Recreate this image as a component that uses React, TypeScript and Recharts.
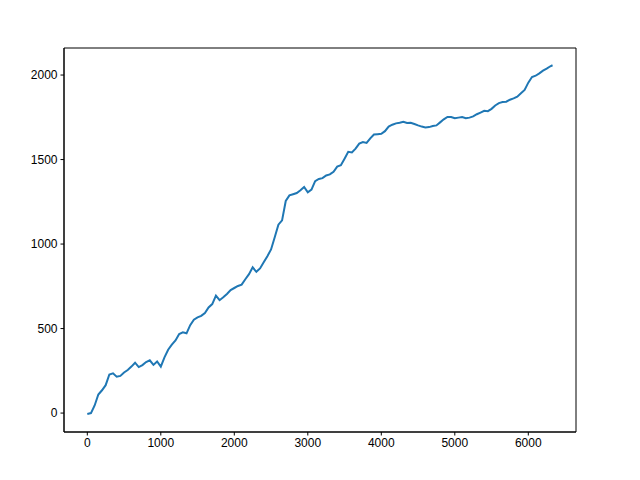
import { LineChart, Line, XAxis, YAxis, ReferenceArea } from "recharts";

const steps = [
  0, 50, 100, 150, 200, 250, 300, 350, 400, 450, 500, 550, 600, 650, 700, 750,
  800, 850, 900, 950, 1000, 1050, 1100, 1150, 1200, 1250, 1300, 1350, 1400,
  1450, 1500, 1550, 1600, 1650, 1700, 1750, 1800, 1850, 1900, 1950, 2000, 2050,
  2100, 2150, 2200, 2250, 2300, 2350, 2400, 2450, 2500, 2550, 2600, 2650, 2700,
  2750, 2800, 2850, 2900, 2950, 3000, 3050, 3100, 3150, 3200, 3250, 3300, 3350,
  3400, 3450, 3500, 3550, 3600, 3650, 3700, 3750, 3800, 3850, 3900, 3950, 4000,
  4050, 4100, 4150, 4200, 4250, 4300, 4350, 4400, 4450, 4500, 4550, 4600, 4650,
  4700, 4750, 4800, 4850, 4900, 4950, 5000, 5050, 5100, 5150, 5200, 5250, 5300,
  5350, 5400, 5450, 5500, 5550, 5600, 5650, 5700, 5750, 5800, 5850, 5900, 5950,
  6000, 6050, 6100, 6150, 6200, 6250, 6300, 6330,
];

const values = [
  -5, 0, 45, 110, 135, 165, 228, 235, 215, 220, 240, 255, 275, 298, 272, 284,
  302, 312, 285, 305, 275, 330, 375, 405, 430, 468, 478, 472, 520, 552, 566,
  575, 592, 625, 645, 695, 668, 685, 705, 728, 740, 752, 760, 792, 822, 862,
  836, 856, 892, 928, 968, 1040, 1115, 1140, 1255, 1288, 1295, 1302, 1318,
  1338, 1306, 1322, 1372, 1385, 1390, 1406, 1412, 1428, 1458, 1466, 1505, 1546,
  1542, 1565, 1594, 1604, 1598, 1625, 1648, 1650, 1652, 1668, 1695, 1706, 1714,
  1718, 1724, 1716, 1718, 1710, 1702, 1695, 1690, 1692, 1698, 1702, 1720, 1738,
  1752, 1752, 1744, 1748, 1752, 1745, 1748, 1755, 1768, 1778, 1788, 1786, 1800,
  1820, 1834, 1840, 1842, 1854, 1862, 1872, 1892, 1912, 1955, 1988, 1996, 2010,
  2026, 2038, 2052, 2058,
];

const xTicks = [0, 1000, 2000, 3000, 4000, 5000, 6000];
const yTicks = [0, 500, 1000, 1500, 2000];

const xDomain = [-317, 6649];
const yDomain = [-112, 2160];

const data = steps.map((s, i) => ({ step: s, value: values[i] }));

const tickStyle = { fontSize: 12, fill: "#000", fontFamily: "Liberation Sans, Arial, sans-serif" };

export default function App() {
  return (
    <>
      <style>{`body { margin: 0; background: #fff; }`}</style>
      <LineChart
        width={640}
        height={480}
        data={data}
        margin={{ top: 48, right: 64, left: 0, bottom: 0 }}
      >
        <XAxis
          dataKey="step"
          type="number"
          domain={xDomain}
          allowDataOverflow
          ticks={xTicks}
          height={48}
          tick={tickStyle}
          tickSize={3.5}
          tickMargin={3}
          axisLine={{ stroke: "#000" }}
          tickLine={{ stroke: "#000" }}
          interval={0}
        />
        <YAxis
          type="number"
          domain={yDomain}
          allowDataOverflow
          ticks={yTicks}
          width={64}
          tick={tickStyle}
          tickSize={3.5}
          tickMargin={3}
          axisLine={{ stroke: "#000" }}
          tickLine={{ stroke: "#000" }}
          interval={0}
        />
        {/* frame around the plot, like matplotlib's spines */}
        <ReferenceArea
          x1={xDomain[0]}
          x2={xDomain[1]}
          y1={yDomain[0]}
          y2={yDomain[1]}
          fill="none"
          stroke="#000"
          strokeWidth={1}
          fillOpacity={0}
        />
        <Line
          dataKey="value"
          type="linear"
          stroke="#1f77b4"
          strokeWidth={2}
          dot={false}
          isAnimationActive={false}
        />
      </LineChart>
    </>
  );
}
